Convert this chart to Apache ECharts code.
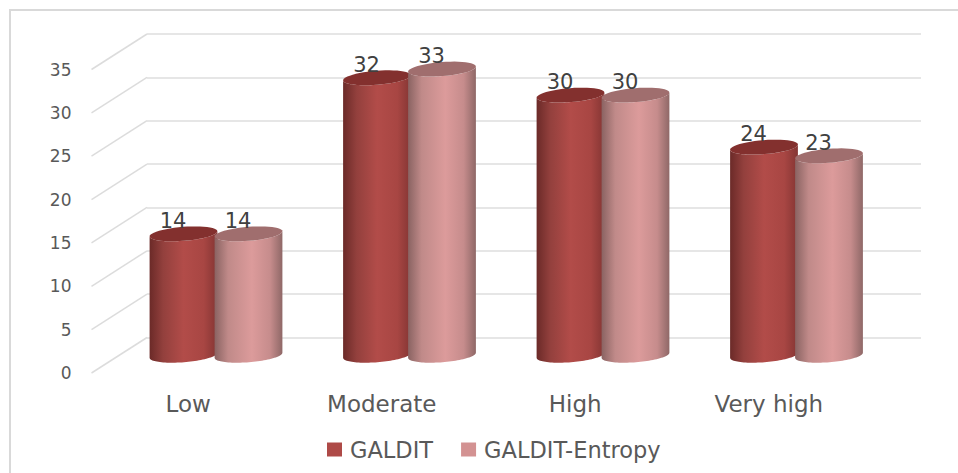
<!DOCTYPE html>
<html>
<head>
<meta charset="utf-8">
<script src="https://cdn.jsdelivr.net/npm/echarts@6/dist/echarts.min.js"></script>
<style>
  html, body { margin: 0; padding: 0; background: #fff; }
  #chart { width: 958px; height: 473px; }
</style>
</head>
<body>
<div id="chart"></div>
<script>
const categories = ['Low', 'Moderate', 'High', 'Very high'];
const galdit = [14, 32, 30, 24];
const galditEntropy = [14, 33, 30, 23];
const yTicks = [0, 5, 10, 15, 20, 25, 30, 35];

// oblique depth between the front plane (labels) and the back wall (gridlines)
const DEPTH_X = 55.5;
const DEPTH_Y = -35.5;
const TEXT = 'DejaVu Sans';

function ellipsePoints(cx, cy, rx, ry, from, to) {
  const tilt = -4.5 * Math.PI / 180;
  const pts = [];
  for (let i = 0; i <= 48; i++) {
    const t = from + (to - from) * i / 48;
    const ex = rx * Math.cos(t);
    const ey = ry * Math.sin(t);
    pts.push([
      cx + ex * Math.cos(tilt) - ey * Math.sin(tilt),
      cy + ex * Math.sin(tilt) + ey * Math.cos(tilt),
    ]);
  }
  return pts;
}

function cylinder(offset, stops, topColor) {
  return (params, api) => {
    const top = api.coord([api.value(0), api.value(1)]);
    const base = api.coord([api.value(0), 0]);
    const cx = top[0] + DEPTH_X / 2 + offset;
    const yTop = top[1] + DEPTH_Y / 2;
    const yBase = base[1] + DEPTH_Y / 2;
    const rx = 34;
    const ry = 7;
    const lower = ellipsePoints(cx, yBase, rx, ry, Math.PI, 0);
    const upper = ellipsePoints(cx, yTop, rx, ry, 0, Math.PI);
    return {
      type: 'group',
      children: [
        {
          type: 'polygon',
          shape: { points: lower.concat(upper) },
          style: {
            fill: new echarts.graphic.LinearGradient(0, 0, 1, 0, stops),
          },
        },
        {
          type: 'polygon',
          shape: { points: ellipsePoints(cx, yTop, rx, ry, 0, Math.PI * 2) },
          style: { fill: topColor },
        },
        {
          type: 'text',
          style: {
            text: String(api.value(1)),
            x: cx - 10.5,
            y: yTop - 13,
            align: 'center',
            verticalAlign: 'middle',
            font: '21px "' + TEXT + '"',
            fill: '#404040',
          },
        },
      ],
    };
  };
}

function slantLine(params, api) {
  const y = api.coord([0, api.value(0)])[1];
  const x = params.coordSys.x;
  return {
    type: 'line',
    shape: { x1: x, y1: y, x2: x + DEPTH_X, y2: y + DEPTH_Y },
    style: { stroke: '#dcdcdc', lineWidth: 1.5 },
  };
}

const chart = echarts.init(document.getElementById('chart'), null, { renderer: 'svg' });
chart.setOption({
  animation: false,
  backgroundColor: '#fff',
  legend: {
    left: 322,
    top: 433,
    itemWidth: 15,
    itemHeight: 14,
    itemGap: 28,
    icon: 'rect',
    data: ['GALDIT', 'GALDIT-Entropy'],
    textStyle: { fontFamily: TEXT, fontSize: 22.5, color: '#595959', padding: [0, 0, 0, 3] },
  },
  grid: [
    { left: 147, top: 34, width: 774, height: 303.5 },
    { left: 91.5, top: 69.5, width: 774, height: 303.5 },
  ],
  xAxis: [
    { gridIndex: 0, type: 'category', data: categories, show: false },
    {
      gridIndex: 1,
      type: 'category',
      data: categories,
      axisLine: { show: false },
      axisTick: { show: false },
      axisLabel: { margin: 19, fontFamily: TEXT, fontSize: 23, color: '#595959' },
    },
  ],
  yAxis: [
    {
      gridIndex: 0,
      type: 'value',
      min: 0,
      max: 35,
      interval: 5,
      axisLine: { show: false },
      axisTick: { show: false },
      axisLabel: { show: false },
      splitLine: { lineStyle: { color: '#dedede', width: 1.5 } },
    },
    {
      gridIndex: 1,
      type: 'value',
      min: 0,
      max: 35,
      interval: 5,
      axisLine: { show: false },
      axisTick: { show: false },
      axisLabel: { margin: 20, fontFamily: TEXT, fontSize: 17, color: '#595959' },
      splitLine: { show: false },
    },
  ],
  series: [
    {
      type: 'custom',
      xAxisIndex: 1,
      yAxisIndex: 1,
      clip: false,
      silent: true,
      data: yTicks.map((v) => [v]),
      encode: { y: 0 },
      renderItem: slantLine,
    },
    {
      name: 'GALDIT',
      type: 'custom',
      xAxisIndex: 1,
      yAxisIndex: 1,
      clip: false,
      itemStyle: { color: '#ae4a47' },
      data: galdit.map((v, i) => [i, v]),
      encode: { x: 0, y: 1 },
      renderItem: cylinder(-32.5, [
        { offset: 0, color: '#6b2a28' },
        { offset: 0.2, color: '#93403d' },
        { offset: 0.5, color: '#b24c49' },
        { offset: 0.8, color: '#a84643' },
        { offset: 1, color: '#843533' },
      ], '#83302e'),
    },
    {
      name: 'GALDIT-Entropy',
      type: 'custom',
      xAxisIndex: 1,
      yAxisIndex: 1,
      clip: false,
      itemStyle: { color: '#d39292' },
      data: galditEntropy.map((v, i) => [i, v]),
      encode: { x: 0, y: 1 },
      renderItem: cylinder(32.5, [
        { offset: 0, color: '#8a6362' },
        { offset: 0.2, color: '#c08a89' },
        { offset: 0.55, color: '#dc9b9b' },
        { offset: 0.82, color: '#c68c8c' },
        { offset: 1, color: '#8f6867' },
      ], '#a06e6e'),
    },
  ],
  graphic: [
    {
      type: 'polyline',
      silent: true,
      shape: { points: [[10, 473], [10, 10], [958, 10]] },
      style: { stroke: '#d9d9d9', lineWidth: 2, fill: null },
    },
  ],
});
</script>
</body>
</html>
